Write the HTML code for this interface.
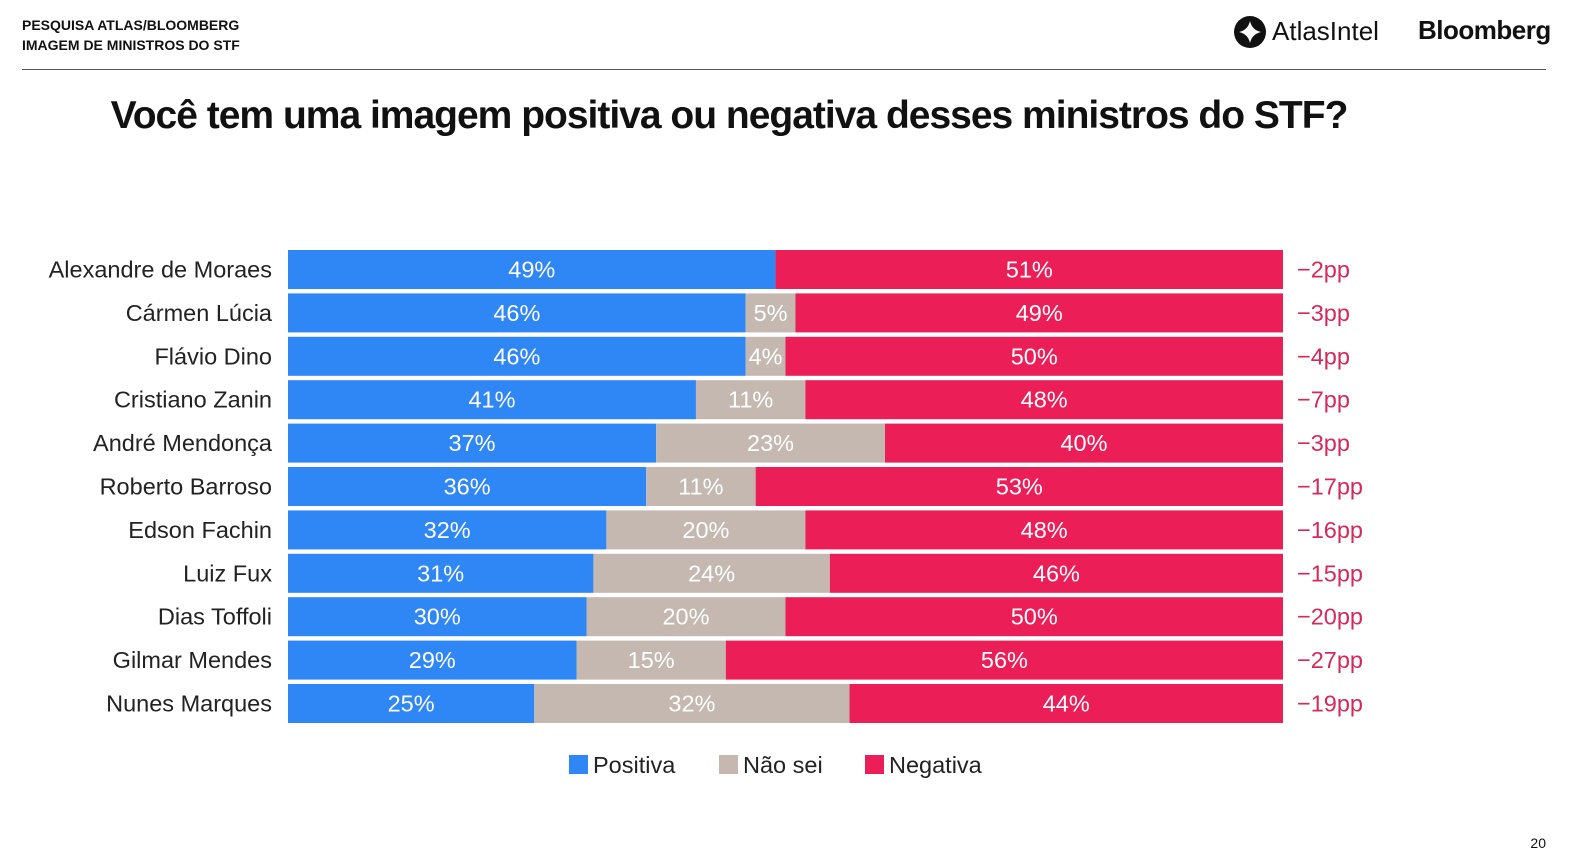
<!DOCTYPE html>
<html><head><meta charset="utf-8"><style>
body{margin:0;background:#fff;font-family:"Liberation Sans",sans-serif;}
#wrap{position:relative;width:1572px;height:866px;overflow:hidden;}
.hdr{position:absolute;left:22px;top:15px;font-size:14px;font-weight:bold;color:#111;line-height:20px;}
.rule{position:absolute;left:22px;top:69px;width:1524px;height:1px;background:#555;}
.title{position:absolute;left:0;width:1458px;top:94px;text-align:center;font-size:39px;font-weight:bold;color:#111;letter-spacing:-1px;}
svg text{font-family:"Liberation Sans",sans-serif;}
</style></head><body>
<div id="wrap">
<div class="hdr">PESQUISA ATLAS/BLOOMBERG<br>IMAGEM DE MINISTROS DO STF</div>
<svg style="position:absolute;left:1233px;top:15px" width="34" height="34"><circle cx="17" cy="17" r="16" fill="#111"/><path d="M17 6 Q19 15 28 17 Q19 19 17 28 Q15 19 6 17 Q15 15 17 6Z" fill="#fff"/></svg>
<div style="position:absolute;left:1272px;top:16px;font-size:26px;color:#111">AtlasIntel</div>
<div style="position:absolute;left:1418px;top:15px;font-size:26px;font-weight:bold;color:#111;letter-spacing:-0.5px">Bloomberg</div>
<div class="rule"></div>
<div class="title">Você tem uma imagem positiva ou negativa desses ministros do STF?</div>
<svg id="chart" style="position:absolute;left:0;top:0" width="1572" height="866"></svg>
<div style="position:absolute;right:26px;top:835px;font-size:14px;color:#111">20</div>
</div>
<script>
const names=["Alexandre de Moraes","Cármen Lúcia","Flávio Dino","Cristiano Zanin","André Mendonça","Roberto Barroso","Edson Fachin","Luiz Fux","Dias Toffoli","Gilmar Mendes","Nunes Marques"];
const positiva=[49,46,46,41,37,36,32,31,30,29,25];
const naosei=[0,5,4,11,23,11,20,24,20,15,32];
const negativa=[51,49,50,48,40,53,48,46,50,56,44];
const saldo=["−2pp","−3pp","−4pp","−7pp","−3pp","−17pp","−16pp","−15pp","−20pp","−27pp","−19pp"];
const colors=["#2f87f5","#c4b8b0","#ec1e58"];
const svg=document.getElementById('chart');
const NS="http://www.w3.org/2000/svg";
const x0=288,W=995,y0=250,step=43.4,bh=39;
function yPos(i){return y0+i*step;}
function el(t,a){const e=document.createElementNS(NS,t);for(const k in a)e.setAttribute(k,a[k]);svg.appendChild(e);return e;}
names.forEach((n,i)=>{
  const vals=[positiva[i],naosei[i],negativa[i]];
  const tot=vals[0]+vals[1]+vals[2];
  const y=yPos(i);
  const lab=el('text',{x:272,y:y+bh/2+8,'text-anchor':'end','font-size':23.5,fill:'#222'});
  lab.textContent=n;
  
  
  let cx=x0;
  vals.forEach((v,j)=>{
    if(v<=0)return;
    const w=v/tot*W;
    const r=el('rect',{x:cx,y:y,width:w,height:bh,fill:colors[j]});
    
    
    const t=el('text',{x:cx+w/2,y:y+bh/2+8,'text-anchor':'middle','font-size':23.5,fill:'#fff'});
    t.textContent=v+'%';
    
    
    cx+=w;
  });
  const s=el('text',{x:1297,y:y+bh/2+8,'font-size':23.5,fill:'#d6285a'});
  s.textContent=saldo[i];
  
  
});
const legend=[["Positiva",569],["Não sei",719],["Negativa",865]];
legend.forEach((l,j)=>{
  const r=el('rect',{x:l[1],y:755,width:19,height:19,fill:colors[j]});
  
  
  const t=el('text',{x:l[1]+24,y:773,'font-size':23.5,fill:'#222'});
  t.textContent=l[0];
  
  
});
</script>
</body></html>
